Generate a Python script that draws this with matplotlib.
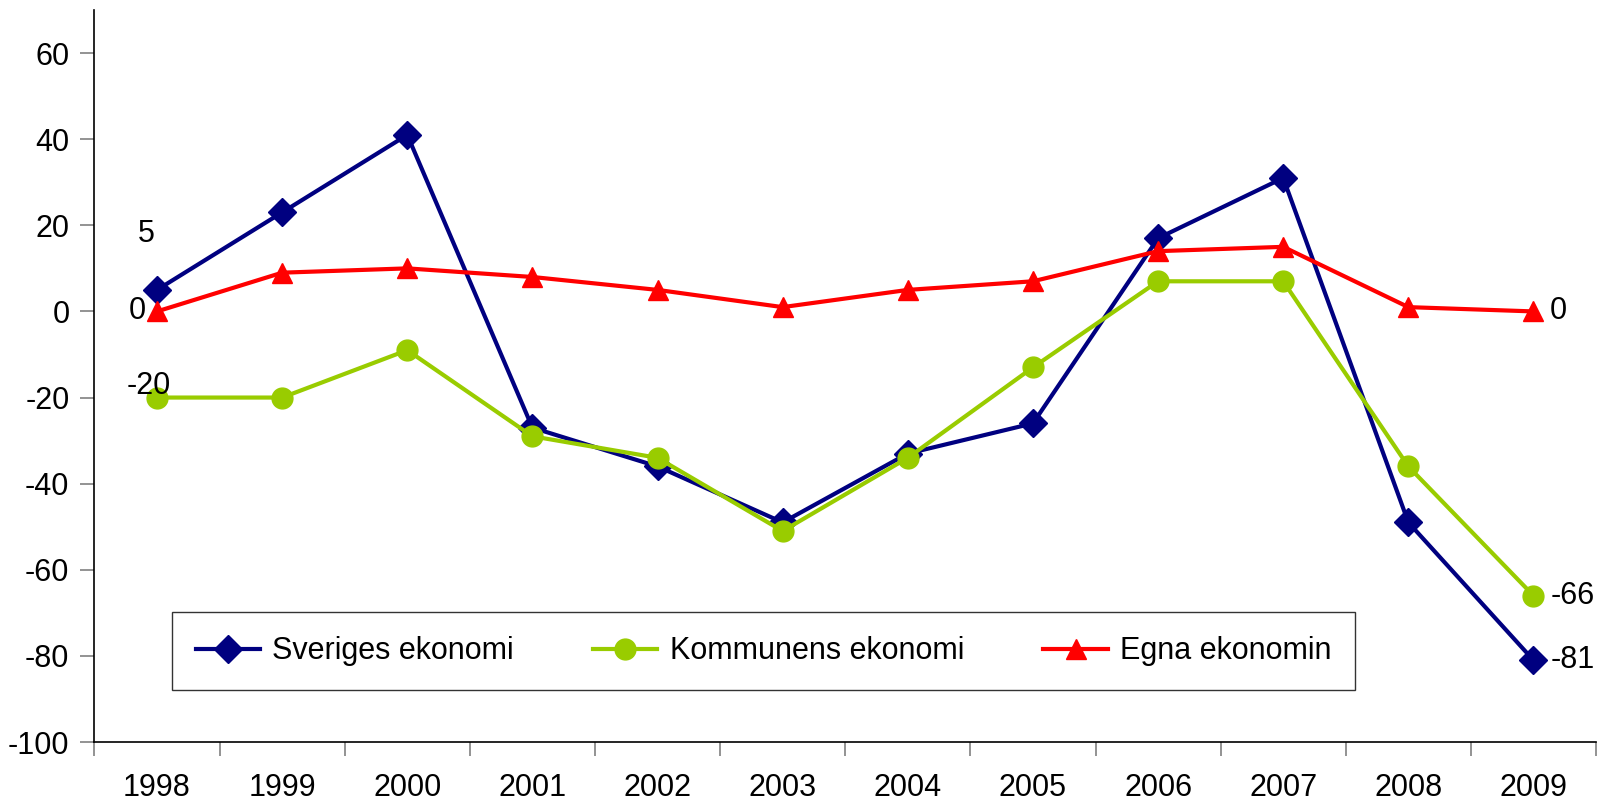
import numpy as np
import matplotlib.pyplot as plt

years = ['1998', '1999', '2000', '2001', '2002', '2003', '2004', '2005', '2006', '2007', '2008', '2009']
sveriges = [5, 23, 41, -27, -36, -49, -33, -26, 17, 31, -49, -81]
kommunens = [-20, -20, -9, -29, -34, -51, -34, -13, 7, 7, -36, -66]
egna = [0, 9, 10, 8, 5, 1, 5, 7, 14, 15, 1, 0]

plt.rcParams['font.family'] = ['Liberation Sans', 'DejaVu Sans']
plt.rcParams['axes.unicode_minus'] = False

fig = plt.figure(figsize=(16.06, 8.02), dpi=100)
ax = fig.add_axes([0.0588, 0.0748, 0.935, 0.9127])

x = np.arange(len(years))
ax.plot(x, sveriges, color='#000080', lw=3, marker='D', ms=14, label='Sveriges ekonomi')
ax.plot(x, kommunens, color='#99CC00', lw=3, marker='o', ms=15, label='Kommunens ekonomi')
ax.plot(x, egna, color='#FF0000', lw=3, marker='^', ms=14, label='Egna ekonomin')

fs = 22
# data labels on first and last points
ax.annotate(str(sveriges[0]), (x[0], sveriges[0]), xytext=(-8, 40), textcoords='offset points',
            ha='center', va='center', fontsize=fs)
ax.annotate(str(egna[0]), (x[0], egna[0]), xytext=(-14, 0), textcoords='offset points',
            ha='center', va='center', fontsize=fs)
ax.annotate(str(kommunens[0]), (x[0], kommunens[0]), xytext=(-6, 8), textcoords='offset points',
            ha='center', va='center', fontsize=fs)
for s in (sveriges, kommunens, egna):
    ax.annotate(str(s[-1]), (x[-1], s[-1]), xytext=(12, 0), textcoords='offset points',
                ha='left', va='center', fontsize=fs)

ax.set_xlim(-0.5, len(years) - 0.5)
ax.set_ylim(-100, 70)
ax.set_yticks(np.arange(-100, 61, 20))
ax.set_xticks(x)
ax.set_xticklabels(years)
ax.set_xticks(np.arange(-0.5, len(years), 1), minor=True)
ax.tick_params(axis='x', which='major', length=0, pad=22, labelsize=fs)
ax.tick_params(axis='x', which='minor', length=10, width=1.2, color='#808080')
ax.tick_params(axis='y', length=10, width=1.2, color='#808080', labelsize=fs, pad=8)

for sp in ('top', 'right'):
    ax.spines[sp].set_visible(False)
ax.spines['left'].set_linewidth(1.2)
ax.spines['bottom'].set_linewidth(1.2)

leg = ax.legend(loc='lower left', bbox_to_anchor=(0.0516, 0.071, 0.788, 0.108), mode='expand',
                ncol=3, fontsize=22, frameon=True, fancybox=False, edgecolor='black',
                handlelength=2.1, handletextpad=0.4, borderpad=0.78, columnspacing=1.0,
                borderaxespad=0)
leg.get_frame().set_linewidth(1.0)

fig.savefig('out.png', dpi=100)
